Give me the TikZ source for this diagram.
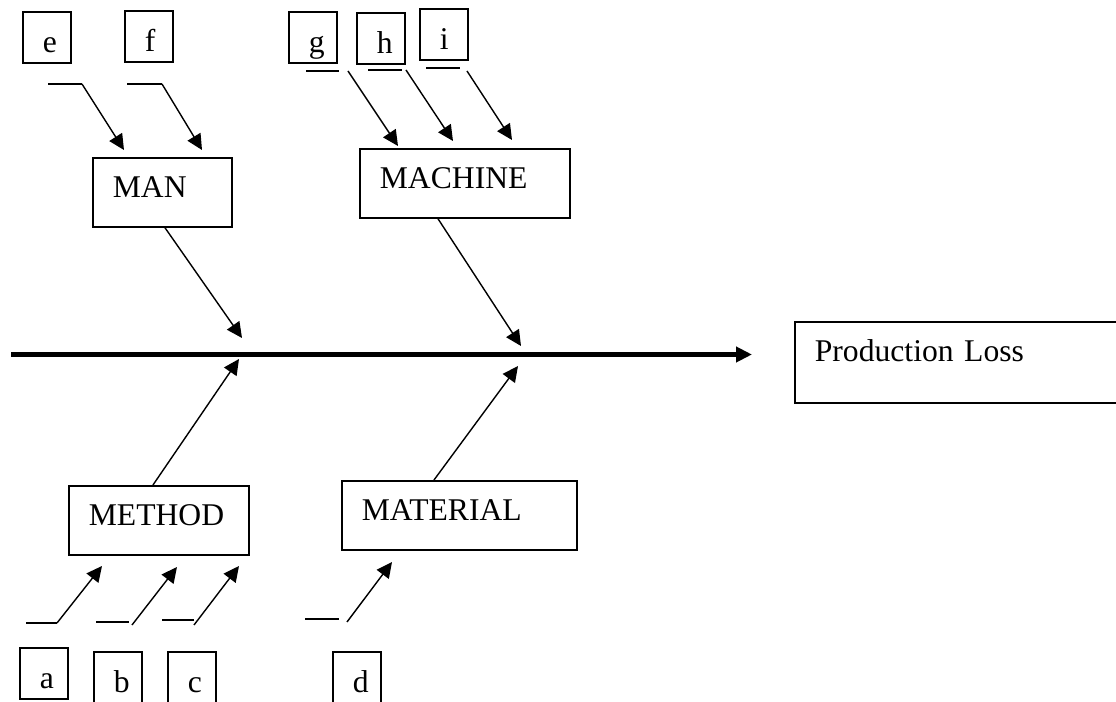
\documentclass[tikz,border=0pt]{standalone}
\usepackage{fontspec}
\setmainfont{Liberation Serif}
\usetikzlibrary{arrows.meta}

\begin{document}
\begin{tikzpicture}[
  x=0.02cm, y=-0.02cm,
  font=\fontsize{18}{21}\selectfont,
  cause/.style={rectangle, draw, line width=1pt, anchor=north west, align=left, inner xsep=0.4cm, inner ysep=0pt, text height=0.8cm, text depth=0.58cm},
  letter/.style={rectangle, draw, line width=1pt, anchor=north west, align=left, inner xsep=0.4cm, inner ysep=0pt, text width=0.16cm, text height=0.82cm, text depth=0.2cm},
  spine/.style={-{Triangle[length=0.32cm, width=0.3cm]}, line width=2.4pt},
  bone/.style={-{Triangle[length=0.31cm, width=0.3cm]}, line width=0.8pt},
  tick/.style={line width=0.8pt}
]
  \useasboundingbox (0,0) rectangle (1116,702);

  % effect and spine
  \node[cause, text width=5.82cm, text depth=0.82cm] (loss) at (794,321) {Production Loss};
  \coordinate (tail) at (11,354.5);
  \draw[spine, shorten >=0.84cm] (tail) -- (tail -| loss.west);

  % main causes
  \node[cause, text width=1.98cm] (man) at (92,157) {MAN};
  \node[cause, text width=3.4cm] (machine) at (359,148) {MACHINE};
  \node[cause, text width=2.8cm] (method) at (68,485) {METHOD};
  \node[cause, text width=3.9cm] (material) at (341,480) {MATERIAL};

  \coordinate (man-tip) at (242,338);
  \coordinate (machine-tip) at (521,346);
  \coordinate (method-tip) at (239,359);
  \coordinate (material-tip) at (518,366);
  \draw[bone] ([xshift=1.46cm]man.south west) -- (man-tip);
  \draw[bone] ([xshift=1.58cm]machine.south west) -- (machine-tip);
  \draw[bone] ([xshift=1.7cm]method.north west) -- (method-tip);
  \draw[bone] ([xshift=1.86cm]material.north west) -- (material-tip);

  % sub-causes, top
  \node[letter] (e) at (22,11) {e};
  \node[letter] (f) at (124,10) {f};
  \node[letter] (g) at (288,11) {g};
  \node[letter] (h) at (356,12) {h};
  \node[letter] (i) at (419,8) {i};

  \coordinate (e-l) at (48,84);   \coordinate (e-r) at (82,84);   \coordinate (e-t) at (124,150);
  \coordinate (f-l) at (127,84);  \coordinate (f-r) at (162,84);  \coordinate (f-t) at (202,150);
  \coordinate (g-l) at (306,71);  \coordinate (g-r) at (339,71);  \coordinate (g-t) at (398,146);
  \coordinate (h-l) at (368,70);  \coordinate (h-r) at (402,70);  \coordinate (h-t) at (453,141);
  \coordinate (i-l) at (426,68);  \coordinate (i-r) at (460,68);  \coordinate (i-t) at (512,140);
  \draw[tick] (e-l) -- (e-r);
  \draw[bone] (e-r) -- (e-t);
  \draw[tick] (f-l) -- (f-r);
  \draw[bone] (f-r) -- (f-t);
  \draw[tick] (g-l) -- (g-r);
  \draw[bone] ([xshift=0.18cm]g-r) -- (g-t);
  \draw[tick] (h-l) -- (h-r);
  \draw[bone] ([xshift=0.08cm]h-r) -- (h-t);
  \draw[tick] (i-l) -- (i-r);
  \draw[bone] ([xshift=0.14cm,yshift=-0.06cm]i-r) -- (i-t);

  % sub-causes, bottom
  \node[letter] (a) at (19,647) {a};
  \node[letter] (b) at (93,651) {b};
  \node[letter] (c) at (167,651) {c};
  \node[letter] (d) at (332,651) {d};

  \coordinate (a-l) at (26,623);   \coordinate (a-r) at (57,623);   \coordinate (a-t) at (102,566);
  \coordinate (b-l) at (96,622);   \coordinate (b-r) at (129,622);  \coordinate (b-t) at (177,567);
  \coordinate (c-l) at (162,620);  \coordinate (c-r) at (194,620);  \coordinate (c-t) at (239,566);
  \coordinate (d-l) at (305,619);  \coordinate (d-r) at (339,619);  \coordinate (d-t) at (392,562);
  \draw[tick] (a-l) -- (a-r);
  \draw[bone] (a-r) -- (a-t);
  \draw[tick] (b-l) -- (b-r);
  \draw[bone] ([xshift=0.06cm,yshift=-0.06cm]b-r) -- (b-t);
  \draw[tick] (c-l) -- (c-r);
  \draw[bone] ([yshift=-0.1cm]c-r) -- (c-t);
  \draw[tick] (d-l) -- (d-r);
  \draw[bone] ([xshift=0.16cm,yshift=-0.06cm]d-r) -- (d-t);
\end{tikzpicture}
\end{document}
